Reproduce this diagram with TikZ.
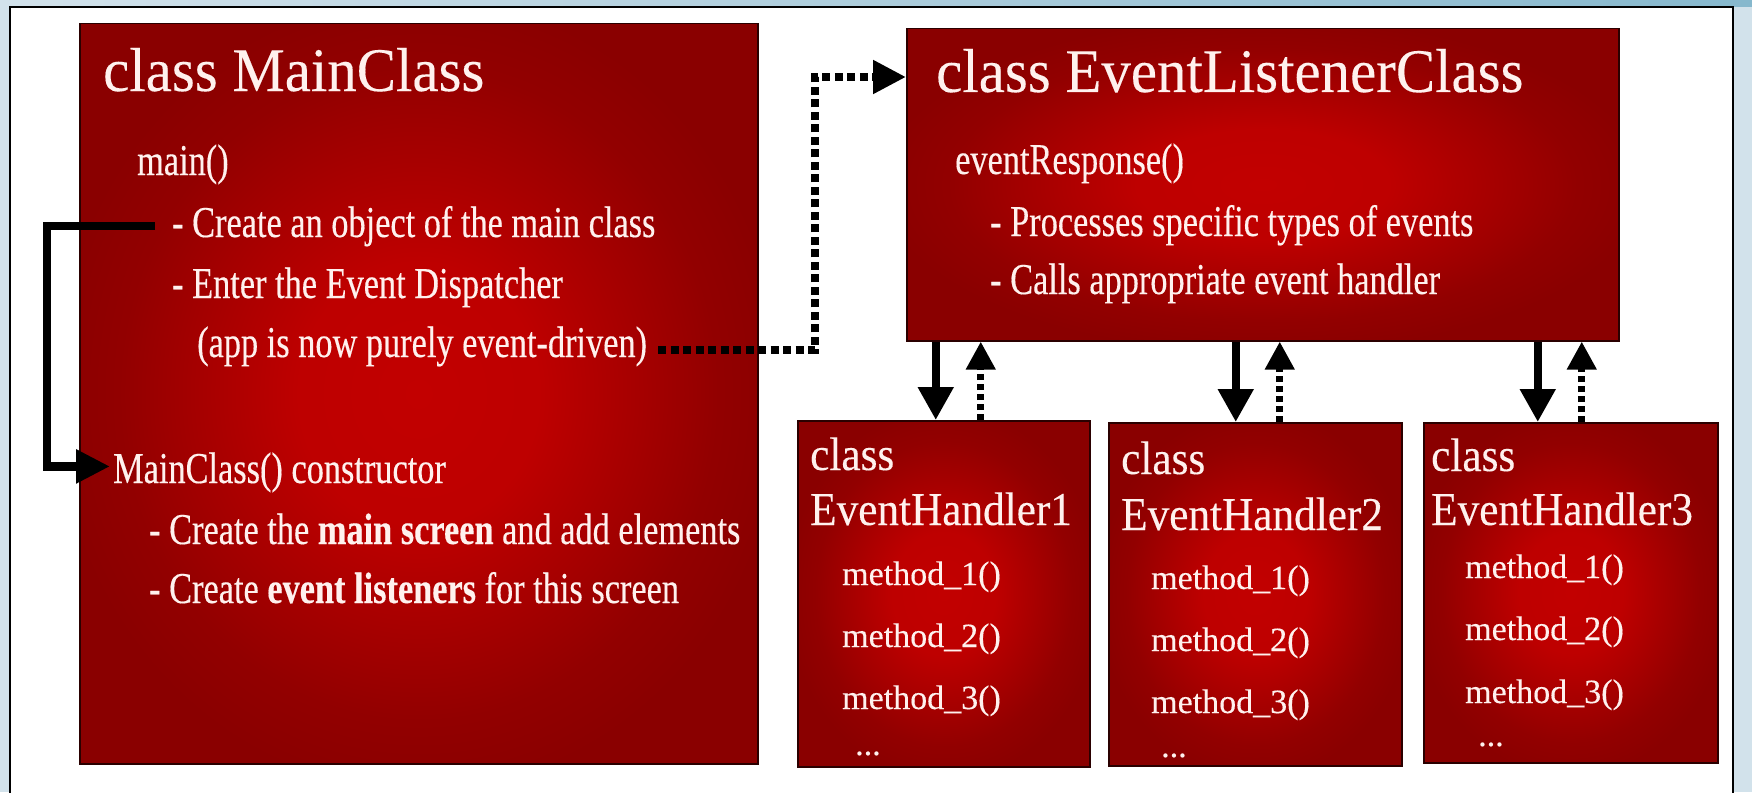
\documentclass[tikz,border=0pt]{standalone}
\usepackage{fontspec}
\setmainfont{Liberation Serif}
\newfontfamily\condfont{Liberation Serif}[FakeStretch=0.78,FakeBold=0.3]
\newfontfamily\titlefont{Liberation Serif}[FakeStretch=0.95,FakeBold=0.2]
\newfontfamily\handlerfont{Liberation Serif}[FakeStretch=0.92,FakeBold=0.2]
\newfontfamily\methodfont{Liberation Serif}[FakeBold=0.3]
\usetikzlibrary{arrows.meta}

\definecolor{boxedge}{HTML}{8A0000}
\definecolor{boxglow}{HTML}{C20000}
\definecolor{boxline}{HTML}{2A0000}
\definecolor{ink}{HTML}{FFF1EE}
\definecolor{framepale}{HTML}{D2E2EB}
\definecolor{framedeep}{HTML}{86B8CD}

% broad red glow that fades to the darker rim
\pgfdeclareradialshading{redglow}{\pgfpoint{0bp}{0bp}}{%
  color(0bp)=(boxglow); color(9bp)=(boxglow!92!boxedge);
  color(22bp)=(boxedge!85!boxglow); color(27bp)=(boxedge);
  color(50bp)=(boxedge)}

\begin{document}
\begin{tikzpicture}[x=1pt,y=-1pt,
  classbox/.style={draw=boxline, line width=1.5pt, shade, shading=redglow,
    anchor=north west, inner sep=0pt},
  classtitle/.style={anchor=base west, inner sep=0pt, text=ink,
    font=\titlefont\fontsize{62}{70}\selectfont},
  bodytext/.style={anchor=base west, inner sep=0pt, text=ink,
    font=\condfont\fontsize{44}{52}\selectfont},
  handlertitle/.style={anchor=base west, inner sep=0pt, text=ink,
    font=\handlerfont\fontsize{47}{55}\selectfont},
  methodtext/.style={anchor=base west, inner sep=0pt, text=ink,
    font=\methodfont\fontsize{34}{40}\selectfont},
  callarrow/.style={line width=8.5pt, -{Triangle[length=34pt,width=32pt]}},
  dotarrow/.style={line width=8pt, dash pattern=on 8pt off 4.5pt,
    -{Triangle[length=33pt,width=32pt]}},
  downarrow/.style={line width=8pt, -{Triangle[length=33pt,width=34pt]}},
  returnarrow/.style={line width=7pt, dash pattern=on 6pt off 4pt,
    -{Triangle[length=28pt,width=28pt]}}
]
\useasboundingbox (0,0) rectangle (1752,792);

% slide frame
\fill[framepale] (0,0) rectangle (1752,792);
\shade[left color=framepale, right color=framedeep] (0,0) rectangle (1752,7);
\filldraw[fill=white, draw=black, line width=2pt] (10,7) rectangle (1733,820);

% class boxes
\node[classbox, minimum width=678pt, minimum height=740pt] (main) at (79,23) {};
\node[classbox, minimum width=712pt, minimum height=312pt] (listener) at (906,28) {};
\node[classbox, minimum width=292pt, minimum height=346pt] (h1) at (797,420) {};
\node[classbox, minimum width=293pt, minimum height=343pt] (h2) at (1108,422) {};
\node[classbox, minimum width=294pt, minimum height=340pt] (h3) at (1423,422) {};

% MainClass
\node[classtitle] (mtitle) at (103,91) {class MainClass};
\node[bodytext] (mainfn) at (137,175) {main()};
\node[bodytext] (create) at (172,237) {- Create an object of the main class};
\node[bodytext] (enter) at (172,298) {- Enter the Event Dispatcher};
\node[bodytext] (app) at (197,357) {(app is now purely event-driven)};
\node[bodytext] (ctor) at (113,483) {MainClass() constructor};
\node[bodytext] (screen) at (149,544) {- Create the \textbf{main screen} and add elements};
\node[bodytext] (listen) at (149,603) {- Create \textbf{event listeners} for this screen};

% EventListenerClass
\node[classtitle] (ltitle) at (936,92) {class EventListenerClass};
\node[bodytext] (resp) at (955,174) {eventResponse()};
\node[bodytext] (proc) at (990,236) {- Processes specific types of events};
\node[bodytext] (calls) at (990,294) {- Calls appropriate event handler};

% EventHandler1
\node[handlertitle] (h1a) at (810,470) {class};
\node[handlertitle] (h1b) at (810,525) {EventHandler1};
\node[methodtext] (h1m1) at (842,585) {method\_1()};
\node[methodtext] (h1m2) at (842,647) {method\_2()};
\node[methodtext] (h1m3) at (842,709) {method\_3()};
\node[methodtext] (h1m4) at (855,755) {...};

% EventHandler2
\node[handlertitle] (h2a) at (1121,474) {class};
\node[handlertitle] (h2b) at (1121,530) {EventHandler2};
\node[methodtext] (h2m1) at (1151,589) {method\_1()};
\node[methodtext] (h2m2) at (1151,651) {method\_2()};
\node[methodtext] (h2m3) at (1151,713) {method\_3()};
\node[methodtext] (h2m4) at (1161,757) {...};

% EventHandler3
\node[handlertitle] (h3a) at (1431,471) {class};
\node[handlertitle] (h3b) at (1431,525) {EventHandler3};
\node[methodtext] (h3m1) at (1465,578) {method\_1()};
\node[methodtext] (h3m2) at (1465,640) {method\_2()};
\node[methodtext] (h3m3) at (1465,703) {method\_3()};
\node[methodtext] (h3m4) at (1478,746) {...};

% main() calls the constructor
\coordinate (lbend) at (47,300);
\draw[callarrow] ([xshift=-17pt]create.west) -| (lbend)
  |- ([xshift=-3pt,yshift=6pt]ctor.west);

% dispatcher hands events to the listener
\coordinate (dtop) at (815,77);
\draw[dotarrow] ([xshift=11pt,yshift=-4pt]app.east) -| (dtop)
  -- (listener.west |- dtop);

% listener calls handlers, handlers return
\draw[downarrow] ([xshift=-8pt]h1.north |- listener.south) -- ([xshift=-8pt]h1.north);
\draw[returnarrow] ([xshift=37pt]h1.north) -- ([xshift=37pt]h1.north |- listener.south);
\draw[downarrow] ([xshift=-19.5pt]h2.north |- listener.south) -- ([xshift=-19.5pt]h2.north);
\draw[returnarrow] ([xshift=24.5pt]h2.north) -- ([xshift=24.5pt]h2.north |- listener.south);
\draw[downarrow] ([xshift=-33pt]h3.north |- listener.south) -- ([xshift=-33pt]h3.north);
\draw[returnarrow] ([xshift=11pt]h3.north) -- ([xshift=11pt]h3.north |- listener.south);
\end{tikzpicture}
\end{document}
